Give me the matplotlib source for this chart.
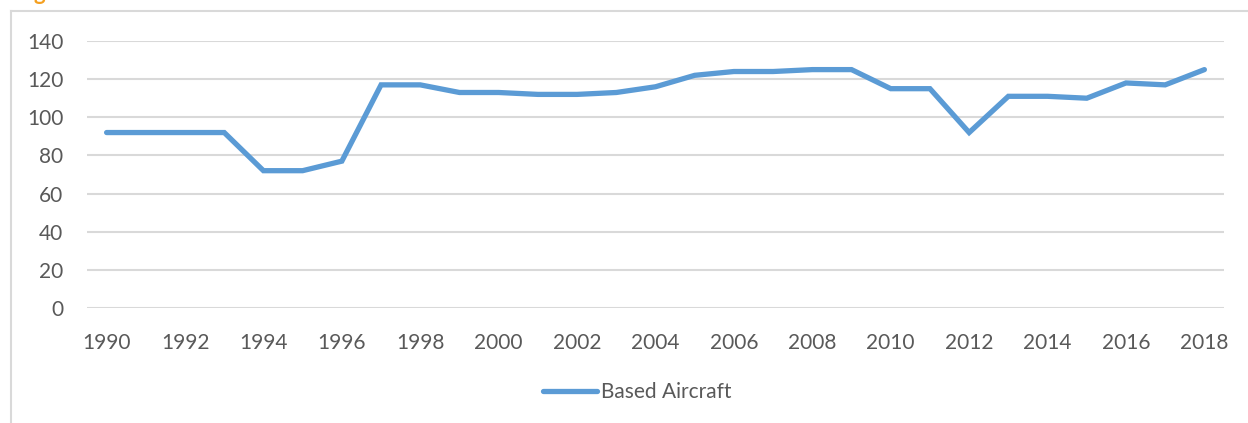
import matplotlib
matplotlib.use('Agg')
import matplotlib.pyplot as plt
from matplotlib.lines import Line2D

years = list(range(1990, 2019))
based_aircraft = [92, 92, 92, 92, 72, 72, 77, 117, 117, 113,
                  113, 112, 112, 113, 116, 122, 124, 124, 125, 125,
                  115, 115, 92, 111, 111, 110, 118, 117, 125]
y_ticks = [0, 20, 40, 60, 80, 100, 120, 140]
x_ticks = list(range(1990, 2019, 2))

plt.rcParams['font.family'] = ['Lato', 'DejaVu Sans']

W, H = 1248, 423
fig = plt.figure(figsize=(W / 100, H / 100), dpi=100)
ax = fig.add_axes([87 / W, 1 - 308 / H, (1224 - 87) / W, (308 - 41) / H])

ax.plot(years, based_aircraft, color='#5B9BD5', lw=3.8, solid_capstyle='round',
        solid_joinstyle='miter', label='Based Aircraft')

ax.set_xlim(1989.5, 2018.5)
ax.set_ylim(0, 140)
ax.set_yticks(y_ticks)
ax.set_xticks(x_ticks)
ax.grid(axis='y', color='#d9d9d9', lw=1.5)
ax.set_axisbelow(True)
for s in ax.spines.values():
    s.set_visible(False)
ax.tick_params(length=0, labelsize=15, labelcolor='#595959')
ax.tick_params(axis='x', pad=18)
ax.tick_params(axis='y', pad=17)

fig.legend(loc='center', bbox_to_anchor=(637 / W, 1 - 392 / H), frameon=False,
           fontsize=15, labelcolor='#595959', handlelength=2.6, handletextpad=0.2)

# chart frame (left and top edges visible)
fig.add_artist(Line2D([11 / W, 11 / W], [0, 1 - 11 / H], color='#d9d9d9', lw=1.5,
                      transform=fig.transFigure))
fig.add_artist(Line2D([11 / W, 1], [1 - 11 / H, 1 - 11 / H], color='#d9d9d9', lw=1.5,
                      transform=fig.transFigure))

# cut-off caption above the chart (only the bottom of it shows)
fig.text(33 / W, 1 + 0.5 / H, 'g', color='#F4A021', fontsize=16, fontweight='bold',
         va='baseline', ha='left')

fig.savefig('out.png', dpi=100)
